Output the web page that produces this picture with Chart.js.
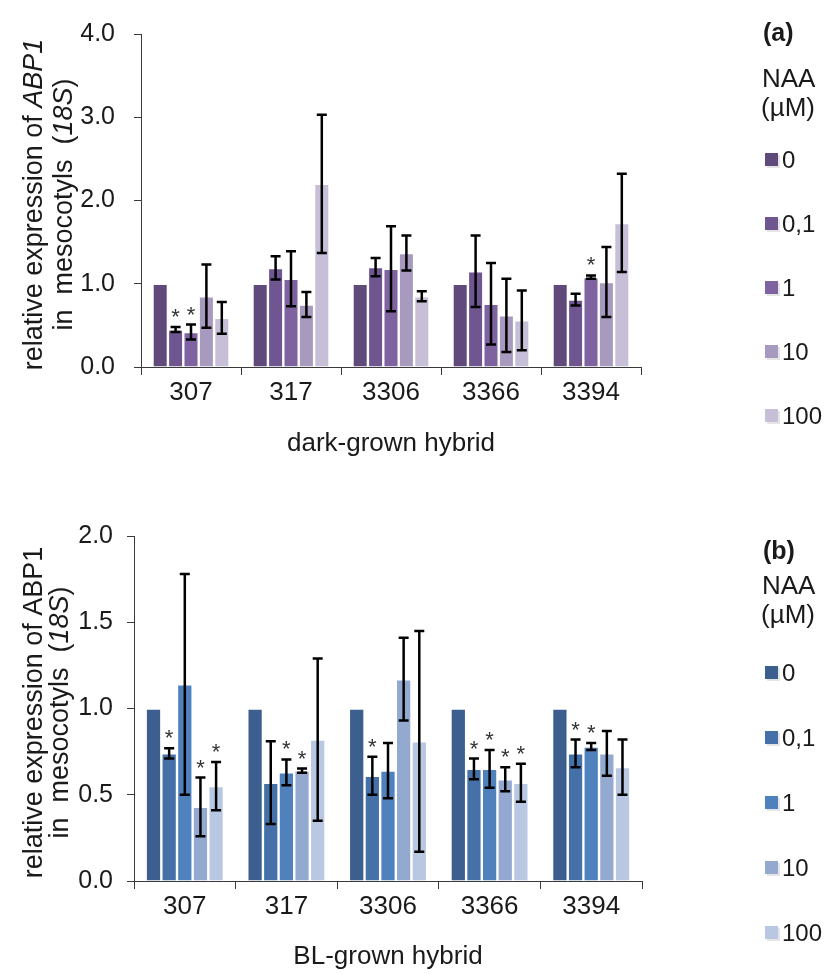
<!DOCTYPE html>
<html><head><meta charset="utf-8">
<script src="https://cdn.jsdelivr.net/npm/chart.js@4.4.1/dist/chart.umd.min.js"></script>
<style>
html,body{margin:0;padding:0;background:#fff;}
#wrap{position:relative;width:834px;height:974px;overflow:hidden;}
.box{position:absolute;left:0;width:834px;}
canvas{display:block;}
</style></head><body>
<div id="wrap">
<div class="box" style="top:0;height:480px"><canvas id="cA" width="834" height="480"></canvas></div>
<div class="box" style="top:480px;height:494px"><canvas id="cB" width="834" height="494"></canvas></div>
</div>
<script>
// ---------- data ----------
const hybrids = ['307', '317', '3306', '3366', '3394'];
const naaLevels = ['0', '0,1', '1', '10', '100'];
const darkTicks = [0, 1, 2, 3, 4];
const blTicks = [0, 0.5, 1, 1.5, 2];

// (a) dark-grown
const dark_0   = [1.00, 1.00, 1.00, 1.00, 1.00];
const dark_01  = [0.45, 1.19, 1.20, 1.15, 0.81];
const dark_1   = [0.42, 1.06, 1.18, 0.76, 1.08];
const dark_10  = [0.85, 0.75, 1.37, 0.62, 1.02];
const dark_100 = [0.59, 2.20, 0.85, 0.56, 1.73];
const darkErr_0   = [0, 0, 0, 0, 0];
const darkErr_01  = [0.03, 0.14, 0.11, 0.43, 0.07];
const darkErr_1   = [0.09, 0.33, 0.51, 0.49, 0.02];
const darkErr_10  = [0.38, 0.15, 0.21, 0.44, 0.42];
const darkErr_100 = [0.19, 0.83, 0.06, 0.36, 0.59];
const darkSig_0   = [0, 0, 0, 0, 0];
const darkSig_01  = [1, 0, 0, 0, 0];
const darkSig_1   = [1, 0, 0, 0, 1];
const darkSig_10  = [0, 0, 0, 0, 0];
const darkSig_100 = [0, 0, 0, 0, 0];

// (b) BL-grown
const bl_0   = [1.00, 1.00, 1.00, 1.00, 1.00];
const bl_01  = [0.74, 0.57, 0.61, 0.65, 0.74];
const bl_1   = [1.14, 0.63, 0.64, 0.65, 0.78];
const bl_10  = [0.43, 0.64, 1.17, 0.59, 0.74];
const bl_100 = [0.55, 0.82, 0.81, 0.57, 0.66];
const blErr_0   = [0, 0, 0, 0, 0];
const blErr_01  = [0.03, 0.24, 0.11, 0.06, 0.08];
const blErr_1   = [0.64, 0.075, 0.16, 0.11, 0.02];
const blErr_10  = [0.17, 0.012, 0.24, 0.07, 0.13];
const blErr_100 = [0.14, 0.47, 0.64, 0.11, 0.16];
const blSig_0   = [0, 0, 0, 0, 0];
const blSig_01  = [1, 0, 1, 1, 1];
const blSig_1   = [0, 1, 0, 1, 1];
const blSig_10  = [1, 1, 0, 1, 0];
const blSig_100 = [1, 0, 0, 1, 0];

const purples = ['#5f4a7b', '#6f5690', '#7f63a1', '#a89abf', '#c7bfd8'];
const blues   = ['#3c5f8f', '#4571a8', '#4f81bd', '#94a9cf', '#b8c8e2'];

// ---------- helpers ----------
const FAM = '"Liberation Sans", Arial, Helvetica, sans-serif';
const TXT = '#1a1a1a';
const AX = '#3a3a3a';

function makeDatasets(means, errs, sigs, colors) {
  return means.map((m, i) => ({
    label: naaLevels[i],
    data: m,
    errors: errs[i],
    stars: sigs[i],
    backgroundColor: colors[i],
    borderColor: '#ffffff',
    borderWidth: 1.2,
    categoryPercentage: 0.77,
    barPercentage: 1.0
  }));
}

const errorPlugin = {
  id: 'errbars',
  afterDatasetsDraw(chart) {
    const ctx = chart.ctx, y = chart.scales.y;
    ctx.save();
    chart.data.datasets.forEach((ds, di) => {
      const meta = chart.getDatasetMeta(di);
      meta.data.forEach((bar, i) => {
        const v = ds.data[i], e = ds.errors[i];
        let top = y.getPixelForValue(v);
        if (e > 0) {
          const y1 = y.getPixelForValue(v + e), y2 = y.getPixelForValue(v - e);
          ctx.strokeStyle = '#000';
          ctx.lineWidth = 2.5;
          ctx.beginPath();
          ctx.moveTo(bar.x, y1); ctx.lineTo(bar.x, y2);
          ctx.moveTo(bar.x - 5, y1); ctx.lineTo(bar.x + 5, y1);
          ctx.moveTo(bar.x - 5, y2); ctx.lineTo(bar.x + 5, y2);
          ctx.stroke();
          top = y1;
        }
        if (ds.stars[i]) {
          ctx.fillStyle = '#333';
          ctx.font = '22px ' + FAM;
          ctx.textAlign = 'center';
          ctx.textBaseline = 'alphabetic';
          ctx.fillText('*', bar.x, top - 3);
        }
      });
    });
    ctx.restore();
  }
};

function drawRich(ctx, segs, x, cy, size) {
  ctx.save();
  ctx.translate(x, cy);
  ctx.rotate(-Math.PI / 2);
  let total = 0;
  segs.forEach(s => {
    ctx.font = (s.it ? 'italic ' : '') + size + 'px ' + FAM;
    s.w = ctx.measureText(s.t).width; total += s.w;
  });
  let xx = -total / 2;
  ctx.textAlign = 'left'; ctx.textBaseline = 'alphabetic'; ctx.fillStyle = TXT;
  segs.forEach(s => {
    ctx.font = (s.it ? 'italic ' : '') + size + 'px ' + FAM;
    ctx.fillText(s.t, xx, 0); xx += s.w;
  });
  ctx.restore();
}

const decorPlugin = {
  id: 'decor',
  afterDraw(chart, args, o) {
    const ctx = chart.ctx;
    const cy = (chart.chartArea.top + chart.chartArea.bottom) / 2 + o.yTitleShift;
    drawRich(ctx, o.yLine1, o.yLine1X, cy, o.yTitleSize);
    drawRich(ctx, o.yLine2, o.yLine2X, cy, o.yTitleSize);
    ctx.save();
    ctx.fillStyle = TXT;
    ctx.textAlign = 'left';
    ctx.textBaseline = 'middle';
    ctx.font = 'bold 25px ' + FAM;
    ctx.fillText(o.panel, o.legX - 2, o.panelY);
    ctx.font = '26px ' + FAM;
    ctx.fillText('NAA', o.legX - 3, o.naaY);
    ctx.fillText('(\u00B5M)', o.legX - 4, o.umY);
    chart.data.datasets.forEach((ds, i) => {
      const yy = o.itemY0 + i * o.itemStep;
      ctx.fillStyle = 'rgba(0,0,0,0.10)';
      ctx.fillRect(o.legX + 2, yy - 5, 13, 13);
      ctx.fillStyle = ds.backgroundColor;
      ctx.fillRect(o.legX, yy - 7, 13, 13);
      ctx.fillStyle = TXT;
      ctx.font = '24px ' + FAM;
      ctx.fillText(ds.label, o.legX + 17, yy + 1);
    });
    ctx.restore();
  }
};

function makeChart(canvasId, datasets, ticks, yMax, xTitle, pad, yPad, xH, titlePb, decor) {
  return new Chart(document.getElementById(canvasId), {
    type: 'bar',
    data: { labels: hybrids, datasets },
    plugins: [errorPlugin, decorPlugin],
    options: {
      responsive: false,
      animation: false,
      devicePixelRatio: 1,
      layout: { padding: pad },
      plugins: { legend: { display: false }, tooltip: { enabled: false }, decor },
      scales: {
        x: {
          offset: true,
          grid: { display: true, drawOnChartArea: false, drawTicks: true, tickLength: 8, color: AX, lineWidth: 1, offset: true },
          border: { display: true, color: AX, width: 1 },
          ticks: { color: TXT, font: { size: 26, family: FAM }, padding: 2, maxRotation: 0 },
          title: { display: true, text: xTitle, color: TXT, font: { size: 26, family: FAM }, padding: { top: 0, bottom: titlePb } },
          afterFit(s) { s.height = xH; }
        },
        y: {
          min: 0, max: yMax,
          afterBuildTicks(s) { s.ticks = ticks.map(v => ({ value: v })); },
          grid: { display: true, drawOnChartArea: false, drawTicks: true, tickLength: 7, color: AX, lineWidth: 1 },
          border: { display: true, color: AX, width: 1 },
          ticks: { color: TXT, font: { size: 25, family: FAM }, padding: yPad, callback: v => Number(v).toFixed(1) },
          afterFit(s) { s.width = 60; }
        }
      }
    }
  });
}

makeChart('cA',
  makeDatasets([dark_0, dark_01, dark_1, dark_10, dark_100],
               [darkErr_0, darkErr_01, darkErr_1, darkErr_10, darkErr_100],
               [darkSig_0, darkSig_01, darkSig_1, darkSig_10, darkSig_100], purples),
  darkTicks, 4, 'dark-grown hybrid',
  { left: 81, right: 193, top: 23, bottom: 0 }, 19, 113, 21,
  {
    yLine1: [{ t: 'relative expression of ' }, { t: 'ABP1', it: true }],
    yLine2: [{ t: 'in  mesocotyls  (' }, { t: '18S', it: true }, { t: ')' }],
    yLine1X: 42, yLine2X: 72, yTitleSize: 27, yTitleShift: 4,
    panel: '(a)', legX: 765, panelY: 34, naaY: 80, umY: 109, itemY0: 160, itemStep: 64
  });

makeChart('cB',
  makeDatasets([bl_0, bl_01, bl_1, bl_10, bl_100],
               [blErr_0, blErr_01, blErr_1, blErr_10, blErr_100],
               [blSig_0, blSig_01, blSig_1, blSig_10, blSig_100], blues),
  blTicks, 2, 'BL-grown hybrid',
  { left: 74, right: 192, top: 56, bottom: 0 }, 14, 93, 2,
  {
    yLine1: [{ t: 'relative expression of ABP1' }],
    yLine2: [{ t: 'in  mesocotyls  (' }, { t: '18S', it: true }, { t: ')' }],
    yLine1X: 42, yLine2X: 68, yTitleSize: 27, yTitleShift: 4,
    panel: '(b)', legX: 765, panelY: 72, naaY: 107, umY: 136, itemY0: 193, itemStep: 65
  });
</script>
</body></html>
